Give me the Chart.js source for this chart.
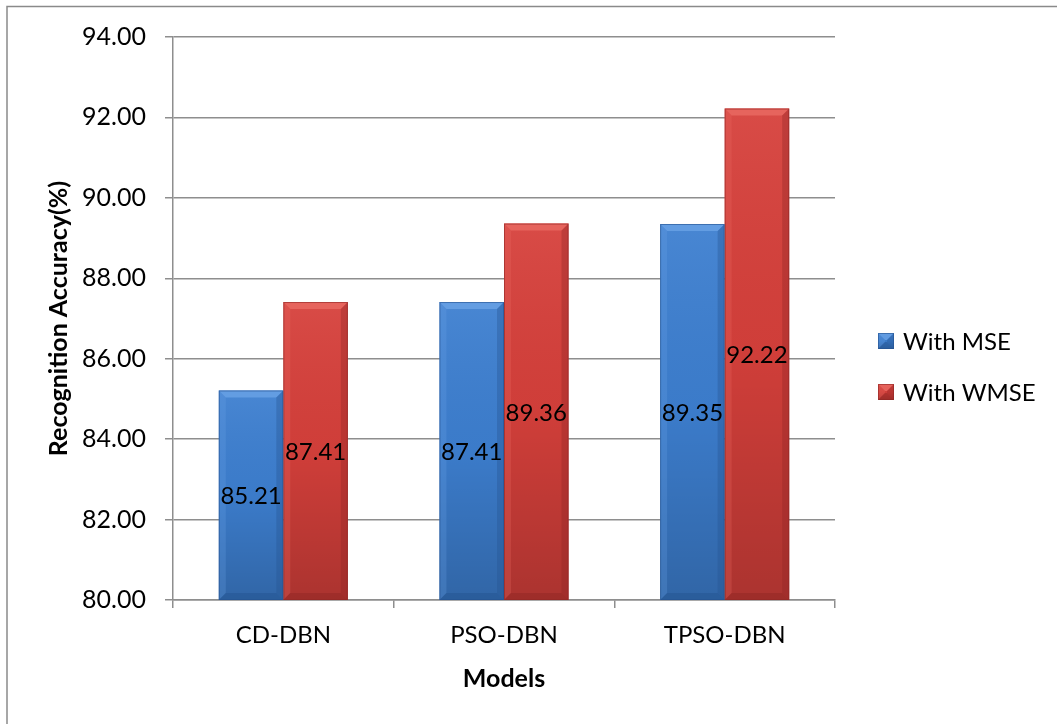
<!DOCTYPE html>
<html>
<head>
<meta charset="utf-8">
<script src="https://cdn.jsdelivr.net/npm/chart.js@4.4.1/dist/chart.umd.min.js"></script>
<style>
  html, body { margin: 0; padding: 0; background: #fff; }
  #wrap { position: relative; width: 1057px; height: 724px; }
  canvas { display: block; }
</style>
</head>
<body>
<div id="wrap"><canvas id="chart" width="1057" height="724"></canvas></div>
<script>
// Models compared and their recognition accuracy (%)
const categories = ['CD-DBN', 'PSO-DBN', 'TPSO-DBN'];
const withMSE = [85.21, 87.41, 89.35];
const withWMSE = [87.41, 89.36, 92.22];
const seriesNames = ['With MSE', 'With WMSE'];
const yTicks = [80, 82, 84, 86, 88, 90, 92, 94];

const FONT = 'Lato, "Open Sans", sans-serif';
const GRID = '#8e8e8e';

const palette = [
  { base: '#3d7fd0', light: '#6aa3e6', dark: '#24528f' },
  { base: '#d6403b', light: '#ea6a63', dark: '#8f2624' }
];

// Bevel / gradient shading on top of each bar
function shadeBar(ctx, x0, x1, top, bottom, pal) {
  const b = Math.min(7, (bottom - top) / 2);
  ctx.save();
  const g = ctx.createLinearGradient(0, top, 0, bottom);
  g.addColorStop(0, 'rgba(255,255,255,0.06)');
  g.addColorStop(0.5, 'rgba(0,0,0,0.03)');
  g.addColorStop(1, 'rgba(0,0,0,0.2)');
  ctx.fillStyle = g;
  ctx.fillRect(x0, top, x1 - x0, bottom - top);
  // top bevel
  ctx.fillStyle = pal.light;
  ctx.globalAlpha = 0.8;
  ctx.beginPath();
  ctx.moveTo(x0, top); ctx.lineTo(x1, top); ctx.lineTo(x1 - b, top + b); ctx.lineTo(x0 + b, top + b);
  ctx.closePath(); ctx.fill();
  // left bevel
  ctx.globalAlpha = 0.25;
  ctx.beginPath();
  ctx.moveTo(x0, top); ctx.lineTo(x0 + b, top + b); ctx.lineTo(x0 + b, bottom - b); ctx.lineTo(x0, bottom);
  ctx.closePath(); ctx.fill();
  // right bevel
  ctx.fillStyle = pal.dark;
  ctx.globalAlpha = 0.35;
  ctx.beginPath();
  ctx.moveTo(x1, top); ctx.lineTo(x1 - b, top + b); ctx.lineTo(x1 - b, bottom - b); ctx.lineTo(x1, bottom);
  ctx.closePath(); ctx.fill();
  // bottom bevel
  ctx.globalAlpha = 0.45;
  ctx.beginPath();
  ctx.moveTo(x0, bottom); ctx.lineTo(x0 + b, bottom - b); ctx.lineTo(x1 - b, bottom - b); ctx.lineTo(x1, bottom);
  ctx.closePath(); ctx.fill();
  // outline
  ctx.globalAlpha = 0.6;
  ctx.strokeStyle = pal.dark;
  ctx.lineWidth = 1;
  ctx.strokeRect(x0 + 0.5, top + 0.5, x1 - x0 - 1, bottom - top - 1);
  ctx.restore();
}

const barStyle = {
  id: 'barStyle',
  afterDatasetsDraw(chart) {
    const ctx = chart.ctx;
    const floor = chart.chartArea.bottom;
    chart.data.datasets.forEach((ds, di) => {
      chart.getDatasetMeta(di).data.forEach(bar => {
        const w = bar.width;
        shadeBar(ctx, bar.x - w / 2, bar.x + w / 2, bar.y, Math.min(bar.base, floor), palette[di]);
      });
    });
    // value labels in the middle of each bar
    ctx.save();
    ctx.font = '24px ' + FONT;
    ctx.fillStyle = '#000';
    ctx.textAlign = 'center';
    ctx.textBaseline = 'middle';
    chart.data.datasets.forEach((ds, di) => {
      chart.getDatasetMeta(di).data.forEach((bar, i) => {
        const bottom = Math.min(bar.base, floor);
        ctx.fillText(ds.data[i].toFixed(2), bar.x, (bar.y + bottom) / 2 + 1);
      });
    });
    ctx.restore();
  }
};

// Legend at the right, plus the frame lines along the top and left edges
const sideLegend = {
  id: 'sideLegend',
  beforeDraw(chart) {
    const ctx = chart.ctx;
    ctx.save();
    ctx.strokeStyle = '#8a8a8a';
    ctx.lineWidth = 1.5;
    ctx.beginPath();
    ctx.moveTo(7, chart.height); ctx.lineTo(7, 6.5); ctx.lineTo(chart.width, 6.5);
    ctx.stroke();
    ctx.restore();
  },
  afterDraw(chart) {
    const ctx = chart.ctx;
    const x = chart.chartArea.right + 43;
    const rows = [341, 392];
    ctx.save();
    chart.data.datasets.forEach((ds, di) => {
      const cy = rows[di];
      ctx.fillStyle = palette[di].base;
      ctx.fillRect(x, cy - 8, 16, 16);
      shadeBar(ctx, x, x + 16, cy - 8, cy + 8, palette[di]);
      ctx.font = '24px ' + FONT;
      ctx.fillStyle = '#000';
      ctx.textAlign = 'left';
      ctx.textBaseline = 'middle';
      ctx.fillText(ds.label, x + 25, cy + 1);
    });
    ctx.restore();
  }
};

new Chart(document.getElementById('chart'), {
  type: 'bar',
  data: {
    labels: categories,
    datasets: [
      { label: seriesNames[0], data: withMSE, backgroundColor: palette[0].base, borderWidth: 0 },
      { label: seriesNames[1], data: withWMSE, backgroundColor: palette[1].base, borderWidth: 0 }
    ]
  },
  options: {
    responsive: false,
    animation: false,
    devicePixelRatio: 1,
    layout: { padding: { left: 0, top: 37, right: 222, bottom: 0 } },
    datasets: { bar: { categoryPercentage: 0.585, barPercentage: 1 } },
    plugins: { legend: { display: false }, tooltip: { enabled: false } },
    scales: {
      x: {
        grid: { drawOnChartArea: false, drawTicks: true, tickLength: 8, color: GRID, lineWidth: 1.5, offset: true },
        border: { color: GRID, width: 1.5 },
        ticks: { color: '#000', font: { family: FONT, size: 24 }, padding: 13 },
        title: { display: true, text: 'Models', color: '#000', font: { family: FONT, size: 25, weight: 'bold' }, padding: { top: 0, bottom: 30 } },
        afterFit(scale) { scale.height = 124; }
      },
      y: {
        min: yTicks[0],
        max: yTicks[yTicks.length - 1],
        afterBuildTicks(scale) { scale.ticks = yTicks.map(v => ({ value: v })); },
        grid: { color: GRID, lineWidth: 1.5, tickLength: 8 },
        border: { color: GRID, width: 1.5 },
        ticks: { color: '#000', font: { family: FONT, size: 25 }, padding: 19, callback: v => Number(v).toFixed(2) },
        title: { display: true, text: 'Recognition Accuracy(%)', color: '#000', font: { family: FONT, size: 25, weight: 'bold' }, padding: { top: 44, bottom: 0 } },
        afterFit(scale) { scale.width = 173; }
      }
    }
  },
  plugins: [barStyle, sideLegend]
});
</script>
</body>
</html>
